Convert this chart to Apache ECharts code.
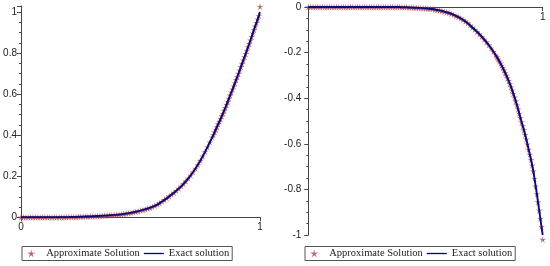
<!DOCTYPE html>
<html>
<head>
<meta charset="utf-8">
<script src="https://cdn.jsdelivr.net/npm/echarts@6/dist/echarts.min.js"></script>
<style>
  html, body { margin: 0; padding: 0; background: #fff; }
  #chart { width: 550px; height: 266px; }
</style>
</head>
<body>
<div id="chart"></div>
<script>
// sample positions (denser near x = 1 where the curves get steep)
const xs = [
  0, 0.01, 0.02, 0.03, 0.04, 0.05, 0.06, 0.07, 0.08, 0.09,
  0.1, 0.11, 0.12, 0.13, 0.14, 0.15, 0.16, 0.17, 0.18, 0.19,
  0.2, 0.21, 0.22, 0.23, 0.24, 0.25, 0.26, 0.27, 0.28, 0.29,
  0.3, 0.31, 0.32, 0.33, 0.34, 0.35, 0.36, 0.37, 0.38, 0.39,
  0.4, 0.41, 0.42, 0.43, 0.44, 0.45, 0.46, 0.47, 0.48, 0.49,
  0.5, 0.51, 0.52, 0.53, 0.54, 0.55, 0.56, 0.57, 0.58, 0.59,
  0.6, 0.61, 0.62, 0.63, 0.64, 0.65, 0.66, 0.67, 0.68, 0.69,
  0.7, 0.71, 0.72, 0.73, 0.74, 0.75, 0.76, 0.77, 0.78, 0.79,
  0.8, 0.805, 0.81, 0.815, 0.82, 0.825, 0.83, 0.835, 0.84, 0.845,
  0.85, 0.855, 0.86, 0.865, 0.87, 0.875, 0.88, 0.885, 0.89, 0.895,
  0.9, 0.905, 0.91, 0.915, 0.92, 0.925, 0.93, 0.935, 0.94, 0.945,
  0.95, 0.955, 0.96, 0.965, 0.97, 0.975, 0.98, 0.985, 0.99, 0.995,
  1
]

// left panel, exact solution
const leftExact = [
  0, 0, 0, 0, 0, 0, 0, 0, 0, 0,
  0.0001, 0.0001, 0.0002, 0.0003, 0.0004, 0.0005, 0.0006, 0.0008, 0.0009, 0.001,
  0.0012, 0.0015, 0.0018, 0.0022, 0.0026, 0.003, 0.0034, 0.0038, 0.0042, 0.0046,
  0.005, 0.0056, 0.0062, 0.0068, 0.0075, 0.0082, 0.009, 0.0098, 0.0107, 0.0116,
  0.0126, 0.0138, 0.0151, 0.0166, 0.0183, 0.0202, 0.0223, 0.0246, 0.0271, 0.0298,
  0.0327, 0.0358, 0.0392, 0.0428, 0.0467, 0.051, 0.056, 0.062, 0.069, 0.077,
  0.085, 0.093, 0.102, 0.111, 0.12, 0.13, 0.14, 0.151, 0.163, 0.176,
  0.19, 0.205, 0.221, 0.238, 0.256, 0.276, 0.297, 0.319, 0.342, 0.366,
  0.39, 0.402, 0.415, 0.428, 0.441, 0.454, 0.467, 0.48, 0.493, 0.506,
  0.52, 0.534, 0.549, 0.564, 0.579, 0.594, 0.609, 0.624, 0.639, 0.654,
  0.67, 0.685, 0.701, 0.717, 0.733, 0.749, 0.765, 0.781, 0.797, 0.813,
  0.83, 0.846, 0.863, 0.88, 0.897, 0.914, 0.931, 0.948, 0.965, 0.982,
  1
]
// right panel, exact solution
const rightExact = [
  0, 0, 0, 0, 0, 0, 0, 0, 0, 0,
  0, 0, 0, 0, 0, 0, 0, 0, 0, 0,
  0, 0, 0, 0, 0, 0, 0, 0, 0, 0,
  0, 0, 0, 0, 0, 0, 0, 0, 0, 0,
  -0.001, -0.001, -0.001, -0.002, -0.002, -0.003, -0.003, -0.004, -0.004, -0.005,
  -0.006, -0.007, -0.008, -0.009, -0.011, -0.013, -0.015, -0.017, -0.02, -0.023,
  -0.026, -0.03, -0.034, -0.039, -0.044, -0.05, -0.056, -0.063, -0.071, -0.08,
  -0.09, -0.099, -0.109, -0.119, -0.13, -0.142, -0.154, -0.167, -0.181, -0.196,
  -0.212, -0.22, -0.229, -0.238, -0.247, -0.257, -0.267, -0.278, -0.289, -0.3,
  -0.312, -0.324, -0.337, -0.351, -0.365, -0.38, -0.396, -0.413, -0.43, -0.448,
  -0.467, -0.486, -0.505, -0.522, -0.54, -0.56, -0.58, -0.602, -0.625, -0.647,
  -0.67, -0.694, -0.72, -0.752, -0.786, -0.82, -0.856, -0.892, -0.928, -0.964,
  -1
]
// approximate solution: same as exact, only the end point overshoots a little
const leftApproxEnd = 1.027
const rightApproxEnd = -1.02

const leftApprox = leftExact.slice(0, -1).concat([leftApproxEnd])
const rightApprox = rightExact.slice(0, -1).concat([rightApproxEnd])

const yTicksLeft = [0, 0.2, 0.4, 0.6, 0.8, 1]
const yTicksRight = [-1, -0.8, -0.6, -0.4, -0.2, 0]

const names = ['Approximate Solution', 'Exact solution']
const starPath = 'path://M10 0L11.76 7.57L19.51 6.91L12.85 10.93L15.88 18.09L10 13L4.12 18.09L7.15 10.93L0.49 6.91L8.24 7.57Z'
const linePath = 'path://M0 0L24 0L24 1.6L0 1.6Z'
const starColor = '#a8404f'
const lineColor = '#0a0a78'
const axisColor = '#444'

function pairs(ys) {
  return xs.map((x, i) => [x, ys[i]])
}
function onTick(list) {
  return v => list.some(t => Math.abs(t - v) < 1e-9) ? String(Math.round(v * 10) / 10) : ''
}

const axisCommon = {
  axisLine: { lineStyle: { color: axisColor, width: 1 } },
  axisTick: { length: 4, lineStyle: { color: axisColor } },
  splitLine: { show: false },
  axisLabel: { color: '#222', fontFamily: 'Liberation Sans', fontSize: 10 }
}

function legendAt(left) {
  return {
    left: left, top: 246.5,
    padding: [1, 3, 1, 5], itemGap: 4, itemWidth: 20, itemHeight: 8,
    borderColor: '#555', borderWidth: 1,
    textStyle: { fontFamily: 'Liberation Serif', fontSize: 10.5, color: '#222', lineHeight: 12 },
    data: [
      { name: names[0], icon: starPath, itemStyle: { color: starColor } },
      { name: names[1], icon: linePath, itemStyle: { color: lineColor } }
    ]
  }
}

const chart = echarts.init(document.getElementById('chart'))

chart.setOption({
  backgroundColor: '#fff',
  animation: false,
  grid: [
    { left: 21, top: 6, width: 239, height: 211.3 },
    { left: 308.3, top: 7, width: 234.4, height: 228 }
  ],
  xAxis: [
    Object.assign({}, axisCommon, {
      gridIndex: 0, type: 'value', min: 0, max: 1, interval: 1,
      axisLabel: Object.assign({}, axisCommon.axisLabel, { margin: 5 })
    }),
    Object.assign({}, axisCommon, {
      gridIndex: 1, type: 'value', min: 0, max: 1, interval: 1,
      position: 'top',
      axisLine: { onZero: false, lineStyle: { color: axisColor, width: 1 } },
      axisTick: { inside: true, length: 4, lineStyle: { color: axisColor } },
      axisLabel: Object.assign({}, axisCommon.axisLabel, {
        inside: true, margin: 5, formatter: v => v === 1 ? '1' : ''
      })
    })
  ],
  yAxis: [
    Object.assign({}, axisCommon, {
      gridIndex: 0, type: 'value', min: 0, max: 1.03, interval: 0.2,
      minorTick: { show: true, splitNumber: 4, length: 2, lineStyle: { color: axisColor } },
      axisLabel: Object.assign({}, axisCommon.axisLabel, { margin: 4, formatter: onTick(yTicksLeft) })
    }),
    Object.assign({}, axisCommon, {
      gridIndex: 1, type: 'value', min: -1, max: 0, interval: 0.2,
      minorTick: { show: true, splitNumber: 4, length: 2, lineStyle: { color: axisColor } },
      axisLabel: Object.assign({}, axisCommon.axisLabel, { margin: 7, formatter: onTick(yTicksRight) })
    })
  ],
  legend: [legendAt(22), legendAt(305)],
  series: [
    {
      name: names[0], type: 'scatter', xAxisIndex: 0, yAxisIndex: 0,
      symbol: starPath, symbolSize: 7, clip: false,
      itemStyle: { color: starColor, opacity: 0.8 },
      data: pairs(leftApprox)
    },
    {
      name: names[1], type: 'line', xAxisIndex: 0, yAxisIndex: 0,
      symbol: 'none', smooth: false,
      lineStyle: { color: lineColor, width: 1.9 },
      itemStyle: { color: lineColor },
      data: pairs(leftExact)
    },
    {
      name: names[0], type: 'scatter', xAxisIndex: 1, yAxisIndex: 1,
      symbol: starPath, symbolSize: 7, clip: false,
      itemStyle: { color: starColor, opacity: 0.8 },
      data: pairs(rightApprox)
    },
    {
      name: names[1], type: 'line', xAxisIndex: 1, yAxisIndex: 1,
      symbol: 'none', smooth: false,
      lineStyle: { color: lineColor, width: 1.9 },
      itemStyle: { color: lineColor },
      data: pairs(rightExact)
    }
  ]
})
</script>
</body>
</html>
